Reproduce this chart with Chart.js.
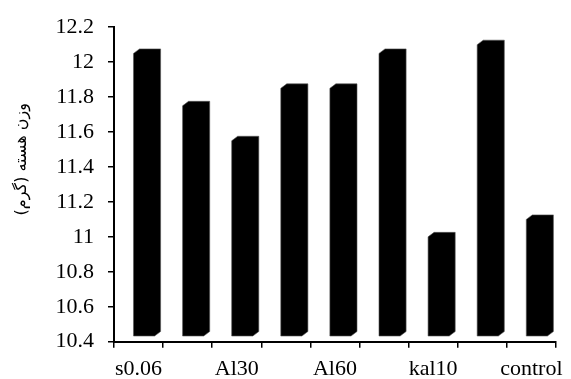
<!DOCTYPE html>
<html>
<head>
<meta charset="utf-8">
<script src="https://cdn.jsdelivr.net/npm/chart.js@4/dist/chart.umd.min.js"></script>
<style>
  html, body { margin: 0; padding: 0; background: #fff; }
  #wrap { width: 571px; height: 379px; position: relative; }
</style>
</head>
<body>
<div id="wrap"><canvas id="c"></canvas></div>
<script>
// Treatments (every other name is printed under the axis)
const categories = ["s0.06", "s0.12", "Al30", "Al45", "Al60", "kal5", "kal10", "kal15", "control"];
// Kernel weight per treatment (g)
const kernelWeight = [12.05, 11.75, 11.55, 11.85, 11.85, 12.05, 11.0, 12.1, 11.1];
// Value-axis ticks
const yTicks = [10.4, 10.6, 10.8, 11, 11.2, 11.4, 11.6, 11.8, 12, 12.2];
const yTitle = "وزن هسته (گرم)";

const serif = "'Liberation Serif', 'Times New Roman', serif";

// Draws each column as a solid block with a little depth (top and side faces)
const blockColumns = {
  id: 'blockColumns',
  afterDatasetsDraw(chart) {
    const ctx = chart.ctx;
    const meta = chart.getDatasetMeta(0);
    const yScale = chart.scales.y;
    const floor = yScale.getPixelForValue(yScale.min);
    const depthX = 6, depthY = 4.5;   // oblique depth of each block
    const shiftX = 5.5, lift = 5.7;   // blocks sit slightly behind the front floor edge
    ctx.save();
    ctx.fillStyle = '#000';
    ctx.strokeStyle = '#555';
    ctx.lineWidth = 0.6;
    meta.data.forEach(el => {
      const p = el.getProps(['x', 'y', 'width'], true);
      const L = p.x - p.width / 2 + shiftX;
      const R = p.x + p.width / 2 + shiftX;
      const top = p.y;
      const bot = floor - lift;
      ctx.beginPath();
      ctx.moveTo(L, top);
      ctx.lineTo(L + depthX, top - depthY);
      ctx.lineTo(R + depthX, top - depthY);
      ctx.lineTo(R + depthX, bot - depthY);
      ctx.lineTo(R, bot);
      ctx.lineTo(L, bot);
      ctx.closePath();
      ctx.fill();
      ctx.stroke();
    });
    ctx.restore();
  }
};

// Rotated Persian title beside the value axis
const sideTitle = {
  id: 'sideTitle',
  afterDraw(chart) {
    const { ctx, chartArea } = chart;
    ctx.save();
    ctx.translate(22, chartArea.top + (chartArea.bottom - chartArea.top) * 0.42);
    ctx.rotate(-Math.PI / 2);
    ctx.fillStyle = '#000';
    ctx.font = "16px 'DejaVu Sans', sans-serif";
    ctx.textAlign = 'center';
    ctx.textBaseline = 'middle';
    ctx.direction = 'rtl';
    ctx.fillText(yTitle, 0, 0);
    ctx.restore();
  }
};

new Chart(document.getElementById('c'), {
  type: 'bar',
  data: {
    labels: categories,
    datasets: [{
      data: kernelWeight,
      backgroundColor: 'rgba(0,0,0,0)',
      borderWidth: 0,
      barPercentage: 0.43,
      categoryPercentage: 1
    }]
  },
  options: {
    responsive: true,
    maintainAspectRatio: false,
    animation: false,
    events: [],
    layout: { padding: { top: 26, right: 9, left: 0, bottom: 0 } },
    plugins: { legend: { display: false }, tooltip: { enabled: false } },
    scales: {
      x: {
        grid: {
          offset: true,
          drawOnChartArea: false,
          drawTicks: true,
          tickLength: 6,
          color: '#000',
          lineWidth: 1.5
        },
        border: { color: '#000', width: 2 },
        ticks: {
          autoSkip: false,
          maxRotation: 0,
          padding: 8,
          color: '#000',
          font: { family: serif, size: 22 },
          callback: (v, i) => (i % 2 === 0 ? categories[i] : '')
        },
        afterFit: s => { s.height = 37.3; }
      },
      y: {
        min: yTicks[0],
        max: yTicks[yTicks.length - 1],
        afterBuildTicks: s => { s.ticks = yTicks.map(v => ({ value: v })); },
        grid: {
          drawOnChartArea: false,
          tickLength: 6,
          color: '#000',
          lineWidth: 1.5
        },
        border: { color: '#000', width: 2 },
        ticks: {
          padding: 14,
          color: '#000',
          font: { family: serif, size: 22 },
          callback: v => String(+v.toFixed(1))
        },
        afterFit: s => { s.width = 114; }
      }
    }
  },
  plugins: [blockColumns, sideTitle]
});
</script>
</body>
</html>
